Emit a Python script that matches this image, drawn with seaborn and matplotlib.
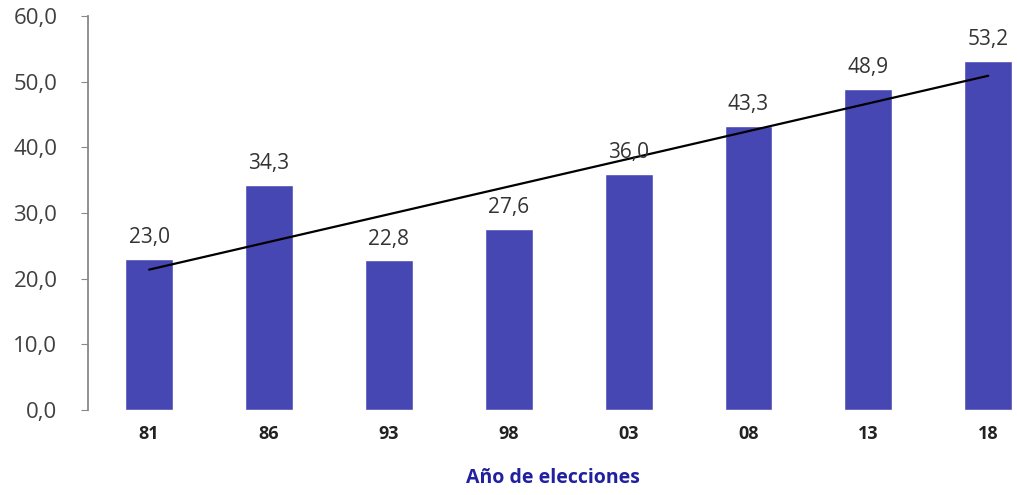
import numpy as np
import pandas as pd
import matplotlib
matplotlib.use("Agg")
import matplotlib.pyplot as plt
import seaborn as sns

# Datos
anios = ["81", "86", "93", "98", "03", "08", "13", "18"]
valores = [23.0, 34.3, 22.8, 27.6, 36.0, 43.3, 48.9, 53.2]

df = pd.DataFrame({"anio": anios, "valor": valores})

sns.set_style("white")
plt.rcParams["font.family"] = ["Open Sans", "DejaVu Sans"]

fig = plt.figure(figsize=(10.17, 4.95), dpi=100)
ax = fig.add_axes([0.0865, 0.1717, 0.9135, 0.796])

sns.barplot(x="anio", y="valor", data=df, color="#4747B4", width=0.4,
            saturation=1, ax=ax)

# etiquetas de valor
for i, v in enumerate(valores):
    ax.text(i, v + 1.6, f"{v:.1f}".replace(".", ","), ha="center", va="bottom",
            fontsize=15, color="#333333")

# linea de tendencia lineal
x = np.arange(len(valores))
m, b = np.polyfit(x, valores, 1)
ax.plot([x[0], x[-1]], [m * x[0] + b, m * x[-1] + b], color="black", lw=1.6)

ax.set_ylim(0, 60)
ax.set_xlim(-0.51, 7.24)
ax.set_yticks(np.arange(0, 61, 10))
ax.set_yticklabels([f"{t:.1f}".replace(".", ",") for t in np.arange(0, 61, 10)],
                   fontsize=16, color="#404040")
ax.set_xticks(x)
ax.set_xticklabels(anios, fontsize=13, fontweight="bold", color="#222222")
ax.tick_params(axis="y", left=True, length=5, color="#888888", pad=17)
ax.tick_params(axis="x", bottom=False, pad=7)

for s in ["top", "right", "bottom"]:
    ax.spines[s].set_visible(False)
ax.spines["left"].set_color("#888888")
ax.spines["left"].set_linewidth(1.3)

ax.set_ylabel("")
ax.set_xlabel("Año de elecciones", fontsize=14, fontweight="bold",
              color="#2020A0", labelpad=18)

fig.savefig("out.png", dpi=100)
